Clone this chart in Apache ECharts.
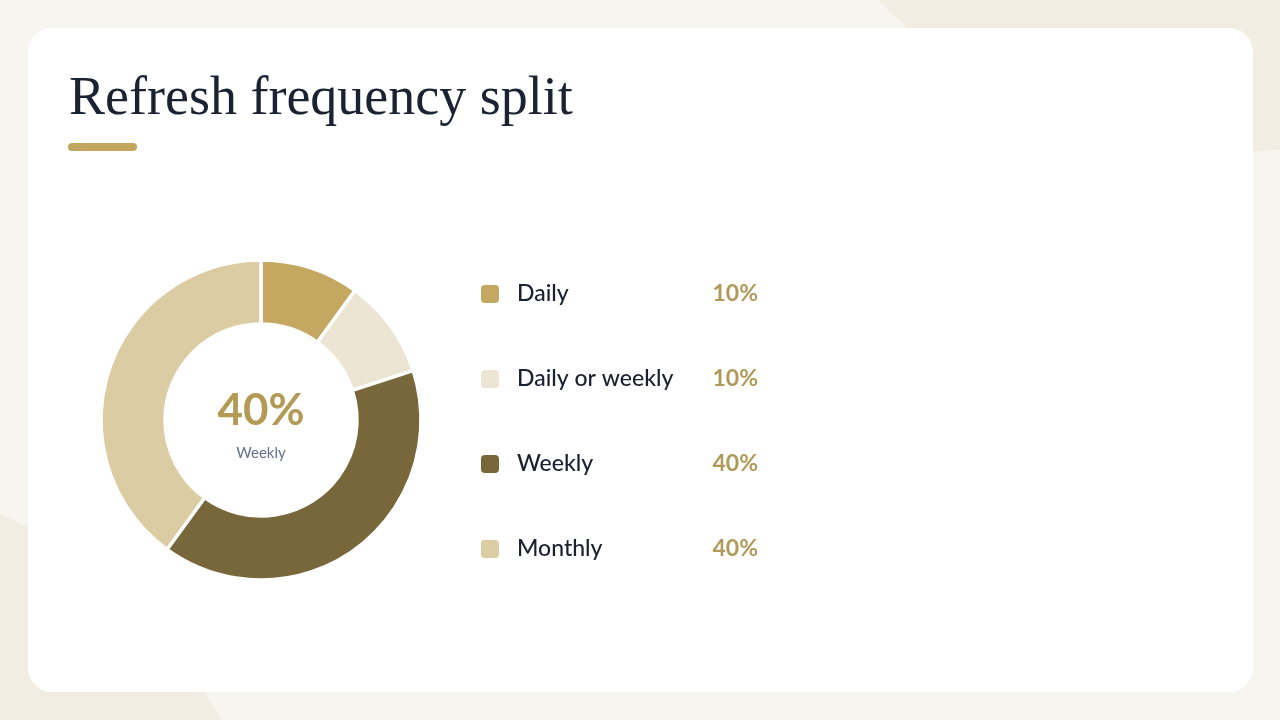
<!DOCTYPE html>
<html>
<head>
<meta charset="utf-8">
<title>Refresh frequency split</title>
<script src="https://cdn.jsdelivr.net/npm/echarts@6/dist/echarts.min.js"></script>
<style>
  html, body { margin: 0; padding: 0; background: #f7f5f0; }
  #chart { width: 1280px; height: 720px; }
</style>
</head>
<body>
<div id="chart"></div>
<script>
// data
var categories = ['Daily', 'Daily or weekly', 'Weekly', 'Monthly']
var shares = [10, 10, 40, 40]
var colors = ['#c4a862', '#ede5d3', '#77673a', '#dccca3']
var highlight = 'Weekly'

var chart = echarts.init(document.getElementById('chart'))

var hi = categories.indexOf(highlight)
var sans = 'Lato, "Noto Sans", sans-serif'

var option = {
  backgroundColor: '#f7f5f0',
  animation: false,
  title: {
    text: 'Refresh frequency split',
    left: 69,
    top: 73,
    padding: 0,
    textStyle: {
      fontFamily: '"Liberation Serif", serif',
      fontSize: 54,
      fontWeight: 'normal',
      color: '#1b2333'
    }
  },
  legend: {
    orient: 'vertical',
    left: 479,
    top: 282,
    padding: 0,
    itemWidth: 20,
    itemHeight: 20,
    itemGap: 61,
    icon: 'roundRect',
    selectedMode: false,
    data: categories,
    formatter: function(name) {
      var i = categories.indexOf(name)
      return '{n|' + name + '}{v|' + shares[i] + '%}'
    },
    textStyle: {
      lineHeight: 24,
      rich: {
        n: { width: 181, padding: [0, 0, 0, 12], fontFamily: sans, fontSize: 23, fontWeight: 500, color: '#1a2030' },
        v: { width: 60, align: 'right', fontFamily: sans, fontSize: 23, fontWeight: 'bold', color: '#b09a5a' }
      }
    }
  },
  graphic: [
    // background blobs
    { type: 'circle', z: -10, silent: true, shape: { cx: 1230, cy: -330, r: 482 }, style: { fill: '#f2ede3' } },
    { type: 'circle', z: -10, silent: true, shape: { cx: -200, cy: 950, r: 480 }, style: { fill: '#f2ede3' } },
    // card
    { type: 'rect', z: -5, silent: true, shape: { x: 28, y: 28, width: 1225, height: 664, r: 24 }, style: { fill: '#ffffff' } },
    // accent bar under the title
    { type: 'rect', z: 1, silent: true, shape: { x: 68, y: 143, width: 69, height: 8, r: 4 }, style: { fill: '#c2a660' } },
    // centre of the donut
    { type: 'text', z: 10, silent: true, x: 261, y: 411,
      style: { text: shares[hi] + '%', align: 'center', verticalAlign: 'middle', font: 'bold 44px ' + sans, fill: '#b39a55' } },
    { type: 'text', z: 10, silent: true, x: 261, y: 453,
      style: { text: highlight, align: 'center', verticalAlign: 'middle', font: '15px ' + sans, fill: '#63718c' } }
  ],
  series: [{
    type: 'pie',
    center: [261, 420],
    radius: [96, 160],
    startAngle: 90,
    clockwise: true,
    silent: true,
    label: { show: false },
    labelLine: { show: false },
    itemStyle: { borderColor: '#ffffff', borderWidth: 3.5 },
    data: categories.map(function(name, i) {
      return { name: name, value: shares[i], itemStyle: { color: colors[i] } }
    })
  }]
}

chart.setOption(option)
</script>
</body>
</html>
